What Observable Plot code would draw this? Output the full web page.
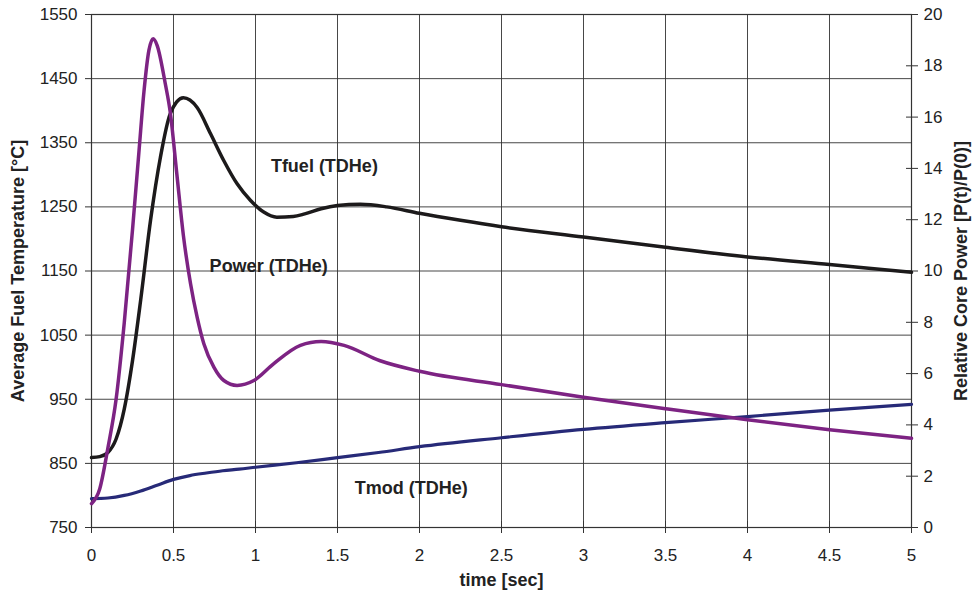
<!DOCTYPE html>
<html>
<head>
<meta charset="utf-8">
<script src="https://cdn.jsdelivr.net/npm/d3@7"></script>
<script src="https://cdn.jsdelivr.net/npm/@observablehq/plot@0.6"></script>
<style>
  html, body { margin: 0; padding: 0; background: #fff; }
  #chart svg { display: block; }
</style>
</head>
<body>
<div id="chart"></div>
<script>
// ---- Data ----
const tempDomain = [750, 1550];
const powerDomain = [0, 20];
const tempTicks = [750, 850, 950, 1050, 1150, 1250, 1350, 1450, 1550];
const powerTicks = [0, 2, 4, 6, 8, 10, 12, 14, 16, 18, 20];
const timeTicks = [0, 0.5, 1, 1.5, 2, 2.5, 3, 3.5, 4, 4.5, 5];

const tfuelTime = [0, 0.05, 0.1, 0.15, 0.2, 0.25, 0.3, 0.36, 0.42, 0.48, 0.56, 0.644, 0.726, 0.807, 0.888, 0.97, 1.05, 1.13, 1.23, 1.3, 1.4, 1.5, 1.64, 1.8, 2.0, 2.25, 2.5, 3.0, 3.5, 4.0, 4.5, 5.0];
const tfuelValue = [859, 860.5, 867, 888, 935, 1010, 1105, 1229, 1327, 1395, 1420, 1405, 1364, 1322, 1286, 1260, 1242, 1234, 1235, 1239, 1247, 1252, 1254, 1250, 1240, 1229, 1219, 1203, 1187, 1172, 1160, 1148];

const powerTime = [0, 0.05, 0.1, 0.15, 0.2, 0.25, 0.29, 0.32, 0.35, 0.376, 0.4, 0.45, 0.48, 0.52, 0.56, 0.604, 0.644, 0.685, 0.746, 0.807, 0.888, 0.99, 1.11, 1.274, 1.4, 1.54, 1.76, 2.0, 2.5, 3.0, 3.5, 4.0, 4.5, 5.0];
const powerValue = [0.93, 1.5, 3.1, 5.0, 8.0, 11.6, 14.7, 17.0, 18.6, 19.05, 18.8, 17.3, 16.2, 13.8, 11.4, 9.5, 8.2, 7.16, 6.25, 5.73, 5.54, 5.73, 6.38, 7.1, 7.25, 7.1, 6.5, 6.09, 5.57, 5.08, 4.63, 4.2, 3.81, 3.48];

const tmodTime = [0, 0.1, 0.2, 0.3, 0.4, 0.5, 0.6, 0.7, 0.8, 0.9, 1.0, 1.25, 1.5, 1.75, 2.0, 2.5, 3.0, 3.5, 4.0, 4.5, 5.0];
const tmodValue = [795, 796, 800, 807, 816, 825, 831, 835, 838.5, 841, 844, 851, 859, 867, 876, 890, 903, 913.5, 923, 933, 942];

const seriesNames = ["Tfuel (TDHe)", "Power (TDHe)", "Tmod (TDHe)"];
const seriesColors = ["#1c1a1b", "#7d2383", "#272a78"];
const labelTime = [1.42, 1.08, 1.95];
const labelTemp = [1313, 1157, 811];

const xLabel = "time [sec]";
const yLeftLabel = "Average Fuel Temperature [°C]";
const yRightLabel = "Relative Core Power [P(t)/P(0)]";

// map power onto the temperature scale (secondary axis)
const pScale = d3.scaleLinear(powerDomain, tempDomain);

const tfuel = tfuelTime.map((t, i) => ({t, v: tfuelValue[i]}));
const power = powerTime.map((t, i) => ({t, v: pScale(powerValue[i])}));
const tmod = tmodTime.map((t, i) => ({t, v: tmodValue[i]}));
const labels = seriesNames.map((name, i) => ({name, t: labelTime[i], v: labelTemp[i]}));

const font = "Liberation Sans, Arial, sans-serif";
const curve = "monotone-x";

const chart = Plot.plot({
  width: 972,
  height: 601,
  marginLeft: 91,
  marginRight: 61,
  marginTop: 14,
  marginBottom: 74,
  style: {fontFamily: font, fontSize: "17px", color: "#222", background: "#fff"},
  x: {domain: [0, 5]},
  y: {domain: tempDomain},
  marks: [
    Plot.gridY(tempTicks, {stroke: "#333", strokeOpacity: 0.9}),
    Plot.gridX(timeTicks, {stroke: "#333", strokeOpacity: 0.9}),
    Plot.frame({stroke: "#333", strokeWidth: 1.2}),
    Plot.axisY(tempTicks, {anchor: "left", tickSize: 6, tickPadding: 8, label: null, fontSize: 17, stroke: "#333", tickFormat: d => String(d)}),
    Plot.axisY(powerTicks.map(pScale), {anchor: "right", tickSize: 12, dx: -6, tickPadding: 6, label: null, fontSize: 17, stroke: "#333", tickFormat: d => String(Math.round(pScale.invert(d)))}),
    Plot.axisX(timeTicks, {anchor: "bottom", tickSize: 12, dy: -6, tickPadding: 15, label: null, fontSize: 17, stroke: "#333", tickFormat: d => String(d)}),
    Plot.line(tmod, {x: "t", y: "v", stroke: seriesColors[2], strokeWidth: 3.2, curve}),
    Plot.line(tfuel, {x: "t", y: "v", stroke: seriesColors[0], strokeWidth: 3.5, curve}),
    Plot.line(power, {x: "t", y: "v", stroke: seriesColors[1], strokeWidth: 3.5, curve}),
    Plot.text(labels, {x: "t", y: "v", text: "name", fontWeight: "bold", fontSize: 18, fill: "#222"}),
    Plot.text([xLabel], {frameAnchor: "bottom", textAnchor: "middle", dy: 58, fontWeight: "bold", fontSize: 18, fill: "#222"}),
    Plot.text([yLeftLabel], {frameAnchor: "left", textAnchor: "middle", dx: -73, rotate: -90, fontWeight: "bold", fontSize: 18, fill: "#222"}),
    Plot.text([yRightLabel], {frameAnchor: "right", textAnchor: "middle", dx: 50, rotate: -90, fontWeight: "bold", fontSize: 18, fill: "#222"})
  ]
});
document.getElementById("chart").appendChild(chart);
</script>
</body>
</html>
